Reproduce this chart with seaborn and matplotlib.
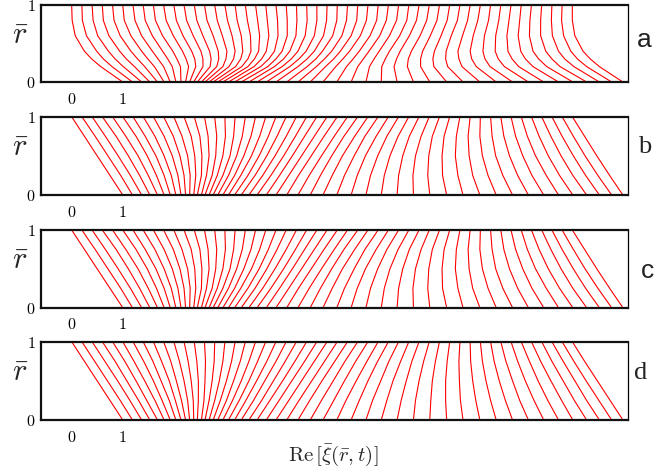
import pandas as pd
import matplotlib
matplotlib.use('Agg')
import matplotlib.pyplot as plt
import seaborn as sns

# x position of every line at the top edge (r = 1) and at the bottom edge (r = 0)
top_x = [0.0, 0.2, 0.4, 0.6, 0.8, 1.0, 1.2, 1.4, 1.6, 1.8, 2.0, 2.2, 2.4, 2.6, 2.8, 3.0, 3.2,
         3.4, 3.6, 3.8, 4.0, 4.2, 4.4, 4.6, 4.8, 5.0, 5.2, 5.4, 5.6, 5.8, 6.0, 6.2, 6.4, 6.6,
         6.8, 7.0, 7.2, 7.4, 7.6, 7.8, 8.0, 8.2, 8.4, 8.6, 8.8, 9.0, 9.2, 9.4, 9.6, 9.8]
bottom_x = [1.00, 1.19, 1.37, 1.53, 1.68, 1.81, 1.93, 2.04, 2.14, 2.23, 2.31, 2.39, 2.46, 2.54,
            2.61, 2.69, 2.77, 2.86, 2.96, 3.07, 3.19, 3.32, 3.47, 3.63, 3.81, 4.00, 4.21, 4.43,
            4.67, 4.92, 5.19, 5.47, 5.76, 6.06, 6.37, 6.69, 7.01, 7.34, 7.66, 7.99, 8.31, 8.63,
            8.94, 9.24, 9.53, 9.81, 10.08, 10.33, 10.57, 10.79]

# panel a, read at r = 0.2, 0.3, 0.4, 0.6, 0.8
a_levels = [0.2, 0.3, 0.4, 0.6, 0.8]
a_r20 = [0.57, 0.79, 1.01, 1.23, 1.43, 1.62, 1.80, 1.97, 2.13, 2.29, 2.43, 2.57, 2.71, 2.84,
         2.96, 3.08, 3.21, 3.33, 3.45, 3.57, 3.70, 3.84, 3.97, 4.12, 4.27, 4.43, 4.61, 4.79,
         4.97, 5.17, 5.38, 5.60, 5.83, 6.07, 6.31, 6.57, 6.83, 7.09, 7.36, 7.64, 7.92, 8.19,
         8.47, 8.75, 9.03, 9.30, 9.56, 9.83, 10.08, 10.33]
a_r30 = [0.39, 0.62, 0.85, 1.07, 1.29, 1.49, 1.69, 1.88, 2.06, 2.24, 2.41, 2.57, 2.73, 2.88,
         3.02, 3.17, 3.31, 3.45, 3.58, 3.72, 3.86, 4.00, 4.15, 4.30, 4.45, 4.61, 4.78, 4.95,
         5.13, 5.31, 5.51, 5.71, 5.92, 6.14, 6.36, 6.59, 6.83, 7.07, 7.32, 7.58, 7.83, 8.09,
         8.35, 8.62, 8.88, 9.14, 9.40, 9.65, 9.90, 10.15]
a_r40 = [0.25, 0.49, 0.72, 0.94, 1.16, 1.37, 1.58, 1.78, 1.98, 2.17, 2.35, 2.53, 2.70, 2.87,
         3.04, 3.20, 3.35, 3.51, 3.66, 3.81, 3.97, 4.12, 4.27, 4.43, 4.59, 4.75, 4.91, 5.09,
         5.26, 5.44, 5.63, 5.82, 6.02, 6.22, 6.43, 6.65, 6.87, 7.10, 7.33, 7.56, 7.80, 8.05,
         8.29, 8.54, 8.79, 9.03, 9.28, 9.53, 9.77, 10.01]
a_r60 = [0.07, 0.29, 0.51, 0.73, 0.95, 1.16, 1.37, 1.58, 1.78, 1.99, 2.18, 2.38, 2.57, 2.77,
         2.95, 3.14, 3.32, 3.50, 3.68, 3.86, 4.04, 4.22, 4.39, 4.57, 4.75, 4.93, 5.11, 5.29,
         5.47, 5.65, 5.84, 6.03, 6.22, 6.42, 6.61, 6.82, 7.02, 7.23, 7.43, 7.65, 7.86, 8.08,
         8.30, 8.52, 8.74, 8.96, 9.18, 9.41, 9.63, 9.85]
a_r80 = [0.01, 0.21, 0.42, 0.62, 0.83, 1.03, 1.24, 1.44, 1.64, 1.85, 2.05, 2.25, 2.45, 2.65,
         2.85, 3.05, 3.24, 3.44, 3.64, 3.83, 4.03, 4.22, 4.41, 4.61, 4.80, 4.99, 5.19, 5.38,
         5.58, 5.77, 5.97, 6.16, 6.36, 6.56, 6.75, 6.95, 7.15, 7.35, 7.55, 7.75, 7.95, 8.16,
         8.36, 8.56, 8.77, 8.97, 9.18, 9.39, 9.59, 9.80]

# panels b and c, read at r = 0.25, 0.5, 0.75
bc_levels = [0.25, 0.5, 0.75]
b_r25 = [0.75, 0.96, 1.15, 1.33, 1.50, 1.66, 1.81, 1.95, 2.08, 2.20, 2.32, 2.43, 2.54, 2.64,
         2.75, 2.85, 2.96, 3.07, 3.19, 3.31, 3.45, 3.59, 3.74, 3.90, 4.07, 4.25, 4.44, 4.65,
         4.87, 5.10, 5.34, 5.59, 5.85, 6.12, 6.40, 6.68, 6.97, 7.26, 7.56, 7.85, 8.15, 8.44,
         8.73, 9.01, 9.29, 9.55, 9.81, 10.06, 10.30, 10.53]
b_r50 = [0.50, 0.71, 0.91, 1.11, 1.30, 1.48, 1.65, 1.81, 1.97, 2.12, 2.27, 2.41, 2.55, 2.69,
         2.82, 2.96, 3.10, 3.23, 3.37, 3.52, 3.67, 3.82, 3.98, 4.15, 4.32, 4.50, 4.69, 4.89,
         5.09, 5.30, 5.53, 5.75, 5.99, 6.23, 6.48, 6.73, 6.99, 7.25, 7.51, 7.78, 8.04, 8.30,
         8.57, 8.83, 9.08, 9.33, 9.58, 9.82, 10.05, 10.28]
b_r75 = [0.25, 0.46, 0.66, 0.87, 1.06, 1.26, 1.44, 1.63, 1.81, 1.99, 2.16, 2.34, 2.51, 2.67,
         2.84, 3.01, 3.17, 3.34, 3.51, 3.68, 3.85, 4.02, 4.20, 4.38, 4.56, 4.75, 4.94, 5.14,
         5.33, 5.54, 5.74, 5.96, 6.17, 6.39, 6.61, 6.84, 7.06, 7.29, 7.53, 7.76, 7.99, 8.23,
         8.46, 8.69, 8.92, 9.15, 9.38, 9.60, 9.82, 10.04]
c_r25 = b_r25
c_r50 = b_r50
c_r75 = b_r75

# panel d, read at r = 0.25, 0.5, 0.75
d_r25 = [0.75, 0.95, 1.14, 1.31, 1.47, 1.63, 1.77, 1.91, 2.03, 2.15, 2.27, 2.38, 2.48, 2.59,
         2.69, 2.80, 2.91, 3.03, 3.15, 3.28, 3.41, 3.56, 3.72, 3.88, 4.06, 4.25, 4.45, 4.66,
         4.89, 5.13, 5.37, 5.63, 5.89, 6.17, 6.45, 6.73, 7.03, 7.32, 7.61, 7.91, 8.20, 8.49,
         8.77, 9.05, 9.32, 9.59, 9.84, 10.08, 10.32, 10.54]
d_r50 = [0.50, 0.70, 0.90, 1.08, 1.26, 1.43, 1.60, 1.75, 1.91, 2.05, 2.20, 2.34, 2.48, 2.61,
         2.75, 2.89, 3.03, 3.17, 3.32, 3.47, 3.62, 3.78, 3.95, 4.13, 4.31, 4.50, 4.70, 4.90,
         5.12, 5.34, 5.57, 5.80, 6.05, 6.29, 6.55, 6.80, 7.06, 7.32, 7.59, 7.85, 8.11, 8.37,
         8.63, 8.88, 9.13, 9.38, 9.62, 9.85, 10.07, 10.29]
d_r75 = [0.25, 0.45, 0.65, 0.85, 1.04, 1.22, 1.41, 1.59, 1.76, 1.94, 2.11, 2.28, 2.45, 2.62,
         2.79, 2.96, 3.13, 3.30, 3.47, 3.64, 3.82, 4.00, 4.18, 4.37, 4.56, 4.75, 4.95, 5.15,
         5.35, 5.56, 5.78, 5.99, 6.21, 6.44, 6.66, 6.89, 7.12, 7.35, 7.58, 7.81, 8.04, 8.27,
         8.50, 8.73, 8.96, 9.18, 9.40, 9.62, 9.83, 10.04]

panel_letters = ['a', 'b', 'c', 'd']


def panel_frame(levels, columns):
    # long table: one row per (line, r) point, from bottom edge to top edge
    r_values = [0.0] + levels + [1.0]
    cols = [bottom_x] + columns + [top_x]
    rows = []
    for i in range(len(top_x)):
        for r, col in zip(r_values, cols):
            rows.append({'line': i, 'r': r, 'x': col[i]})
    return pd.DataFrame(rows)


frames = [
    panel_frame(a_levels, [a_r20, a_r30, a_r40, a_r60, a_r80]),
    panel_frame(bc_levels, [b_r25, b_r50, b_r75]),
    panel_frame(bc_levels, [c_r25, c_r50, c_r75]),
    panel_frame(bc_levels, [d_r25, d_r50, d_r75]),
]

sns.set_theme(style='white')
plt.rcParams['mathtext.fontset'] = 'cm'

W, H = 668, 474
fig = plt.figure(figsize=(W / 100, H / 100), dpi=100)

# axes boxes in pixels: (top, bottom)
boxes = [(5, 82), (116.7, 195), (230, 307.7), (341.7, 420)]
left_px, right_px = 41, 628
letter_pos = [(644, 40), (645, 147), (647, 271), (641, 373)]
letter_font = ['Liberation Sans', 'Liberation Serif', 'Liberation Sans', 'Liberation Serif']

for k, (df, (t, b)) in enumerate(zip(frames, boxes)):
    ax = fig.add_axes([left_px / W, 1 - b / H, (right_px - left_px) / W, (b - t) / H])
    sns.lineplot(data=df, x='x', y='r', units='line', estimator=None, sort=False,
                 color='red', linewidth=0.8, ax=ax)
    ax.set_xlim(-0.60, 10.89)
    ax.set_ylim(0, 1)
    ax.set_xlabel('')
    ax.set_ylabel('')
    ax.set_xticks([0, 1])
    ax.set_xticklabels(['$0$', '$1$'])
    ax.set_yticks([0, 1])
    ax.set_yticklabels(['$0$', '$1$'])
    ax.tick_params(axis='x', direction='in', length=4, width=1, pad=7, labelsize=11.5,
                   colors='black')
    ax.tick_params(axis='y', length=0, pad=4, labelsize=11.5, colors='black')
    for side in ['top', 'bottom', 'left']:
        ax.spines[side].set_linewidth(1.6)
        ax.spines[side].set_color('#111111')
    ax.spines['right'].set_linewidth(0.9)
    ax.spines['right'].set_color('black')

    mid = (t + b) / 2
    fig.text(20 / W, 1 - (mid - 8) / H, r'$\bar{r}$', fontsize=22, ha='center', va='center')
    lx, ly = letter_pos[k]
    fig.text(lx / W, 1 - ly / H, panel_letters[k], fontsize=19, family=letter_font[k],
             ha='center', va='center', color='#222222')

fig.text(333 / W, 1 - 455 / H, r'$\mathrm{Re}\,[\bar{\xi}(\bar{r},t)]$', fontsize=15,
         ha='center', va='center')

fig.savefig('out.png', dpi=100)
